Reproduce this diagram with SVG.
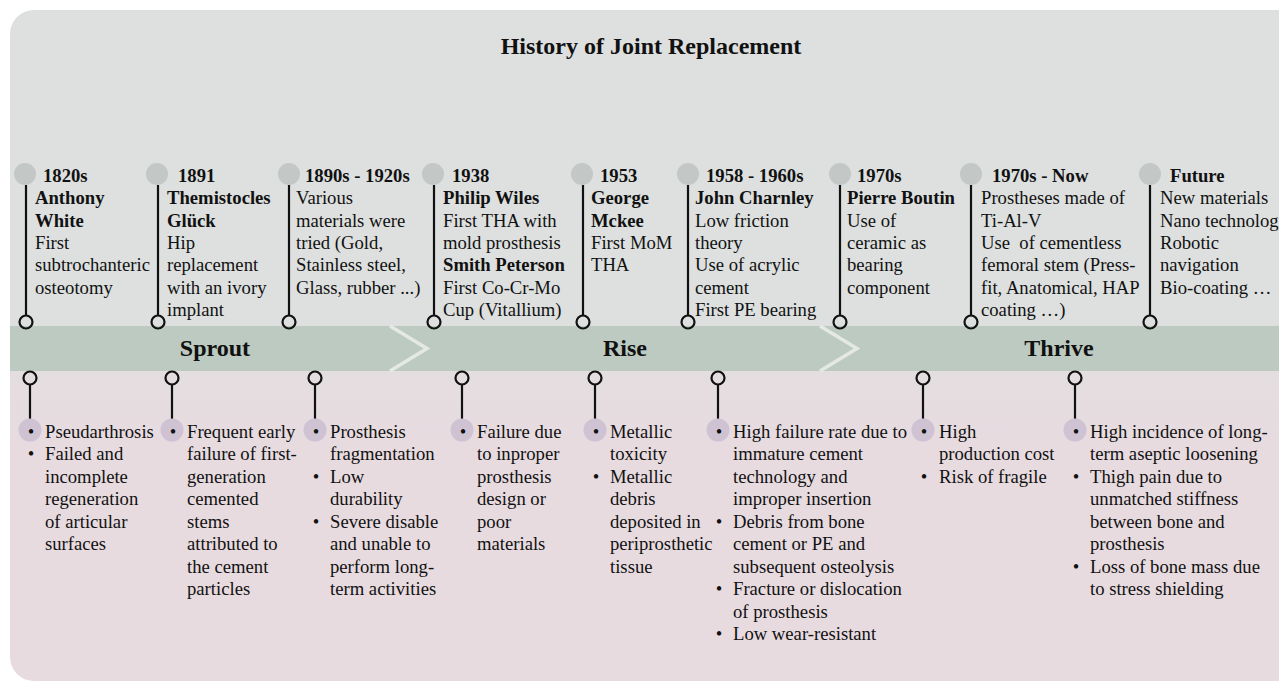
<svg xmlns="http://www.w3.org/2000/svg" width="1279" height="682" viewBox="0 0 1279 682">
<style>
text{font-family:'Liberation Serif','Tinos','Times New Roman','DejaVu Serif',serif;font-size:18.67px;fill:#111}
.b{font-weight:bold}
.title{font-size:24px;font-weight:bold;text-anchor:middle}
.phase{font-size:24px;font-weight:bold;text-anchor:middle}
.dot{fill:#c3c7c6}
.stem{stroke:#111;stroke-width:2.2;fill:none}
.ring{stroke:#111;stroke-width:2.2;fill:none}
.bul{fill:#cec2d3}
.bm{text-anchor:middle}
.chev{stroke:#e4e9e6;stroke-width:3.5;fill:none}
</style>
<defs>
<linearGradient id="pk" x1="0" y1="0" x2="0" y2="1">
<stop offset="0" stop-color="#e3dfe0"/>
<stop offset="0.3" stop-color="#e7dbe0"/>
<stop offset="1" stop-color="#e8dbe0"/>
</linearGradient>
</defs>
<g id="background">
<rect x="10" y="10" width="1300" height="345" rx="24" fill="#dde0df"/>
<rect x="10" y="340" width="1300" height="341" rx="24" fill="url(#pk)"/>
<rect x="10" y="326" width="1300" height="45" fill="#bccac1"/>
<polyline class="chev" points="390,326 427,348.5 390,371"/>
<polyline class="chev" points="820,326 857,348.5 820,371"/>
<text class="title" x="651" y="54">History of Joint Replacement</text>
<text class="phase" x="215" y="356">Sprout</text>
<text class="phase" x="625" y="356">Rise</text>
<text class="phase" x="1059" y="356">Thrive</text>
</g>
<g id="connectors">
<line class="stem" x1="26" y1="185" x2="26" y2="316"/>
<line class="stem" x1="158" y1="185" x2="158" y2="316"/>
<line class="stem" x1="289" y1="185" x2="289" y2="316"/>
<line class="stem" x1="434" y1="185" x2="434" y2="316"/>
<line class="stem" x1="583" y1="185" x2="583" y2="316"/>
<line class="stem" x1="688" y1="185" x2="688" y2="316"/>
<line class="stem" x1="840" y1="185" x2="840" y2="316"/>
<line class="stem" x1="971" y1="185" x2="971" y2="316"/>
<line class="stem" x1="1150" y1="185" x2="1150" y2="316"/>
<line class="stem" x1="30" y1="384" x2="30" y2="420"/>
<line class="stem" x1="172" y1="384" x2="172" y2="420"/>
<line class="stem" x1="315" y1="384" x2="315" y2="420"/>
<line class="stem" x1="462" y1="384" x2="462" y2="420"/>
<line class="stem" x1="595" y1="384" x2="595" y2="420"/>
<line class="stem" x1="718" y1="384" x2="718" y2="420"/>
<line class="stem" x1="923" y1="384" x2="923" y2="420"/>
<line class="stem" x1="1075" y1="384" x2="1075" y2="420"/>
</g>
<g id="n1820">
<circle class="dot" cx="25" cy="174" r="11"/>
<circle class="ring" cx="26" cy="322" r="6.5"/>
<text x="35" y="181.7"><tspan class="b" x="43">1820s</tspan><tspan class="b" x="35" dy="22.4">Anthony</tspan><tspan class="b" x="35" dy="22.4">White</tspan><tspan x="35" dy="22.4">First</tspan><tspan x="35" dy="22.4">subtrochanteric</tspan><tspan x="35" dy="22.4">osteotomy</tspan></text>
</g>
<g id="n1891">
<circle class="dot" cx="157" cy="174" r="11"/>
<circle class="ring" cx="158" cy="322" r="6.5"/>
<text x="167" y="181.7"><tspan class="b" x="178">1891</tspan><tspan class="b" x="167" dy="22.4">Themistocles</tspan><tspan class="b" x="167" dy="22.4">Glück</tspan><tspan x="167" dy="22.4">Hip</tspan><tspan x="167" dy="22.4">replacement</tspan><tspan x="167" dy="22.4">with an ivory</tspan><tspan x="167" dy="22.4">implant</tspan></text>
</g>
<g id="n1890s">
<circle class="dot" cx="289" cy="174" r="11"/>
<circle class="ring" cx="289" cy="322" r="6.5"/>
<text x="296" y="181.7"><tspan class="b" x="305">1890s - 1920s</tspan><tspan x="296" dy="22.4">Various</tspan><tspan x="296" dy="22.4">materials were</tspan><tspan x="296" dy="22.4">tried (Gold,</tspan><tspan x="296" dy="22.4">Stainless steel,</tspan><tspan x="296" dy="22.4">Glass, rubber ...)</tspan></text>
</g>
<g id="n1938">
<circle class="dot" cx="433" cy="174" r="11"/>
<circle class="ring" cx="434" cy="322" r="6.5"/>
<text x="443" y="181.7"><tspan class="b" x="452">1938</tspan><tspan class="b" x="443" dy="22.4">Philip Wiles</tspan><tspan x="443" dy="22.4">First THA with</tspan><tspan x="443" dy="22.4">mold prosthesis</tspan><tspan class="b" x="443" dy="22.4">Smith Peterson</tspan><tspan x="443" dy="22.4">First Co-Cr-Mo</tspan><tspan x="443" dy="22.4">Cup (Vitallium)</tspan></text>
</g>
<g id="n1953">
<circle class="dot" cx="582" cy="174" r="11"/>
<circle class="ring" cx="583" cy="322" r="6.5"/>
<text x="591" y="181.7"><tspan class="b" x="600">1953</tspan><tspan class="b" x="591" dy="22.4">George</tspan><tspan class="b" x="591" dy="22.4">Mckee</tspan><tspan x="591" dy="22.4">First MoM</tspan><tspan x="591" dy="22.4">THA</tspan></text>
</g>
<g id="n1958">
<circle class="dot" cx="688" cy="174" r="11"/>
<circle class="ring" cx="688" cy="322" r="6.5"/>
<text x="695" y="181.7"><tspan class="b" x="706">1958 - 1960s</tspan><tspan class="b" x="695" dy="22.4">John Charnley</tspan><tspan x="695" dy="22.4">Low friction</tspan><tspan x="695" dy="22.4">theory</tspan><tspan x="695" dy="22.4">Use of acrylic</tspan><tspan x="695" dy="22.4">cement</tspan><tspan x="695" dy="22.4">First PE bearing</tspan></text>
</g>
<g id="n1970">
<circle class="dot" cx="840" cy="174" r="11"/>
<circle class="ring" cx="840" cy="322" r="6.5"/>
<text x="847" y="181.7"><tspan class="b" x="857">1970s</tspan><tspan class="b" x="847" dy="22.4">Pierre Boutin</tspan><tspan x="847" dy="22.4">Use of</tspan><tspan x="847" dy="22.4">ceramic as</tspan><tspan x="847" dy="22.4">bearing</tspan><tspan x="847" dy="22.4">component</tspan></text>
</g>
<g id="n1970now">
<circle class="dot" cx="971" cy="174" r="11"/>
<circle class="ring" cx="971" cy="322" r="6.5"/>
<text x="981" y="181.7" xml:space="preserve"><tspan class="b" x="992">1970s - Now</tspan><tspan x="981" dy="22.4">Prostheses made of</tspan><tspan x="981" dy="22.4">Ti-Al-V</tspan><tspan x="981" dy="22.4">Use  of cementless</tspan><tspan x="981" dy="22.4">femoral stem (Press-</tspan><tspan x="981" dy="22.4">fit, Anatomical, HAP</tspan><tspan x="981" dy="22.4">coating …)</tspan></text>
</g>
<g id="nfuture">
<circle class="dot" cx="1150" cy="174" r="11"/>
<circle class="ring" cx="1150" cy="322" r="6.5"/>
<text x="1160" y="181.7"><tspan class="b" x="1170">Future</tspan><tspan x="1160" dy="22.4">New materials</tspan><tspan x="1160" dy="22.4">Nano technology</tspan><tspan x="1160" dy="22.4">Robotic</tspan><tspan x="1160" dy="22.4">navigation</tspan><tspan x="1160" dy="22.4">Bio-coating …</tspan></text>
</g>
<g id="p1">
<circle class="ring" cx="30" cy="378" r="6.5"/>
<circle class="bul" cx="30" cy="430" r="11.5"/>
<text class="bm" x="31" y="437.5">•</text>
<text class="bm" x="31" y="460">•</text>
<text x="45" y="437.5"><tspan x="45">Pseudarthrosis</tspan><tspan x="45" dy="22.5">Failed and</tspan><tspan x="45" dy="22.5">incomplete</tspan><tspan x="45" dy="22.5">regeneration</tspan><tspan x="45" dy="22.5">of articular</tspan><tspan x="45" dy="22.5">surfaces</tspan></text>
</g>
<g id="p2">
<circle class="ring" cx="172" cy="378" r="6.5"/>
<circle class="bul" cx="172" cy="430" r="11.5"/>
<text class="bm" x="173" y="437.5">•</text>
<text x="187" y="437.5"><tspan x="187">Frequent early</tspan><tspan x="187" dy="22.5">failure of first-</tspan><tspan x="187" dy="22.5">generation</tspan><tspan x="187" dy="22.5">cemented</tspan><tspan x="187" dy="22.5">stems</tspan><tspan x="187" dy="22.5">attributed to</tspan><tspan x="187" dy="22.5">the cement</tspan><tspan x="187" dy="22.5">particles</tspan></text>
</g>
<g id="p3">
<circle class="ring" cx="315" cy="378" r="6.5"/>
<circle class="bul" cx="315" cy="430" r="11.5"/>
<text class="bm" x="316" y="437.5">•</text>
<text class="bm" x="316" y="482.5">•</text>
<text class="bm" x="316" y="527.5">•</text>
<text x="330" y="437.5"><tspan x="330">Prosthesis</tspan><tspan x="330" dy="22.5">fragmentation</tspan><tspan x="330" dy="22.5">Low</tspan><tspan x="330" dy="22.5">durability</tspan><tspan x="330" dy="22.5">Severe disable</tspan><tspan x="330" dy="22.5">and unable to</tspan><tspan x="330" dy="22.5">perform long-</tspan><tspan x="330" dy="22.5">term activities</tspan></text>
</g>
<g id="p4">
<circle class="ring" cx="462" cy="378" r="6.5"/>
<circle class="bul" cx="462" cy="430" r="11.5"/>
<text class="bm" x="463" y="437.5">•</text>
<text x="477" y="437.5"><tspan x="477">Failure due</tspan><tspan x="477" dy="22.5">to inproper</tspan><tspan x="477" dy="22.5">prosthesis</tspan><tspan x="477" dy="22.5">design or</tspan><tspan x="477" dy="22.5">poor</tspan><tspan x="477" dy="22.5">materials</tspan></text>
</g>
<g id="p5">
<circle class="ring" cx="595" cy="378" r="6.5"/>
<circle class="bul" cx="595" cy="430" r="11.5"/>
<text class="bm" x="596" y="437.5">•</text>
<text class="bm" x="596" y="482.5">•</text>
<text x="610" y="437.5"><tspan x="610">Metallic</tspan><tspan x="610" dy="22.5">toxicity</tspan><tspan x="610" dy="22.5">Metallic</tspan><tspan x="610" dy="22.5">debris</tspan><tspan x="610" dy="22.5">deposited in</tspan><tspan x="610" dy="22.5">periprosthetic</tspan><tspan x="610" dy="22.5">tissue</tspan></text>
</g>
<g id="p6">
<circle class="ring" cx="718" cy="378" r="6.5"/>
<circle class="bul" cx="718" cy="430" r="11.5"/>
<text class="bm" x="719" y="437.5">•</text>
<text class="bm" x="719" y="527.5">•</text>
<text class="bm" x="719" y="595">•</text>
<text class="bm" x="719" y="640">•</text>
<text x="733" y="437.5"><tspan x="733">High failure rate due to</tspan><tspan x="733" dy="22.5">immature cement</tspan><tspan x="733" dy="22.5">technology and</tspan><tspan x="733" dy="22.5">improper insertion</tspan><tspan x="733" dy="22.5">Debris from bone</tspan><tspan x="733" dy="22.5">cement or PE and</tspan><tspan x="733" dy="22.5">subsequent osteolysis</tspan><tspan x="733" dy="22.5">Fracture or dislocation</tspan><tspan x="733" dy="22.5">of prosthesis</tspan><tspan x="733" dy="22.5">Low wear-resistant</tspan></text>
</g>
<g id="p7">
<circle class="ring" cx="923" cy="378" r="6.5"/>
<circle class="bul" cx="923" cy="430" r="11.5"/>
<text class="bm" x="924" y="437.5">•</text>
<text class="bm" x="924" y="482.5">•</text>
<text x="939" y="437.5"><tspan x="939">High</tspan><tspan x="939" dy="22.5">production cost</tspan><tspan x="939" dy="22.5">Risk of fragile</tspan></text>
</g>
<g id="p8">
<circle class="ring" cx="1075" cy="378" r="6.5"/>
<circle class="bul" cx="1075" cy="430" r="11.5"/>
<text class="bm" x="1076" y="437.5">•</text>
<text class="bm" x="1076" y="482.5">•</text>
<text class="bm" x="1076" y="572.5">•</text>
<text x="1090" y="437.5"><tspan x="1090">High incidence of long-</tspan><tspan x="1090" dy="22.5">term aseptic loosening</tspan><tspan x="1090" dy="22.5">Thigh pain due to</tspan><tspan x="1090" dy="22.5">unmatched stiffness</tspan><tspan x="1090" dy="22.5">between bone and</tspan><tspan x="1090" dy="22.5">prosthesis</tspan><tspan x="1090" dy="22.5">Loss of bone mass due</tspan><tspan x="1090" dy="22.5">to stress shielding</tspan></text>
</g>
</svg>
